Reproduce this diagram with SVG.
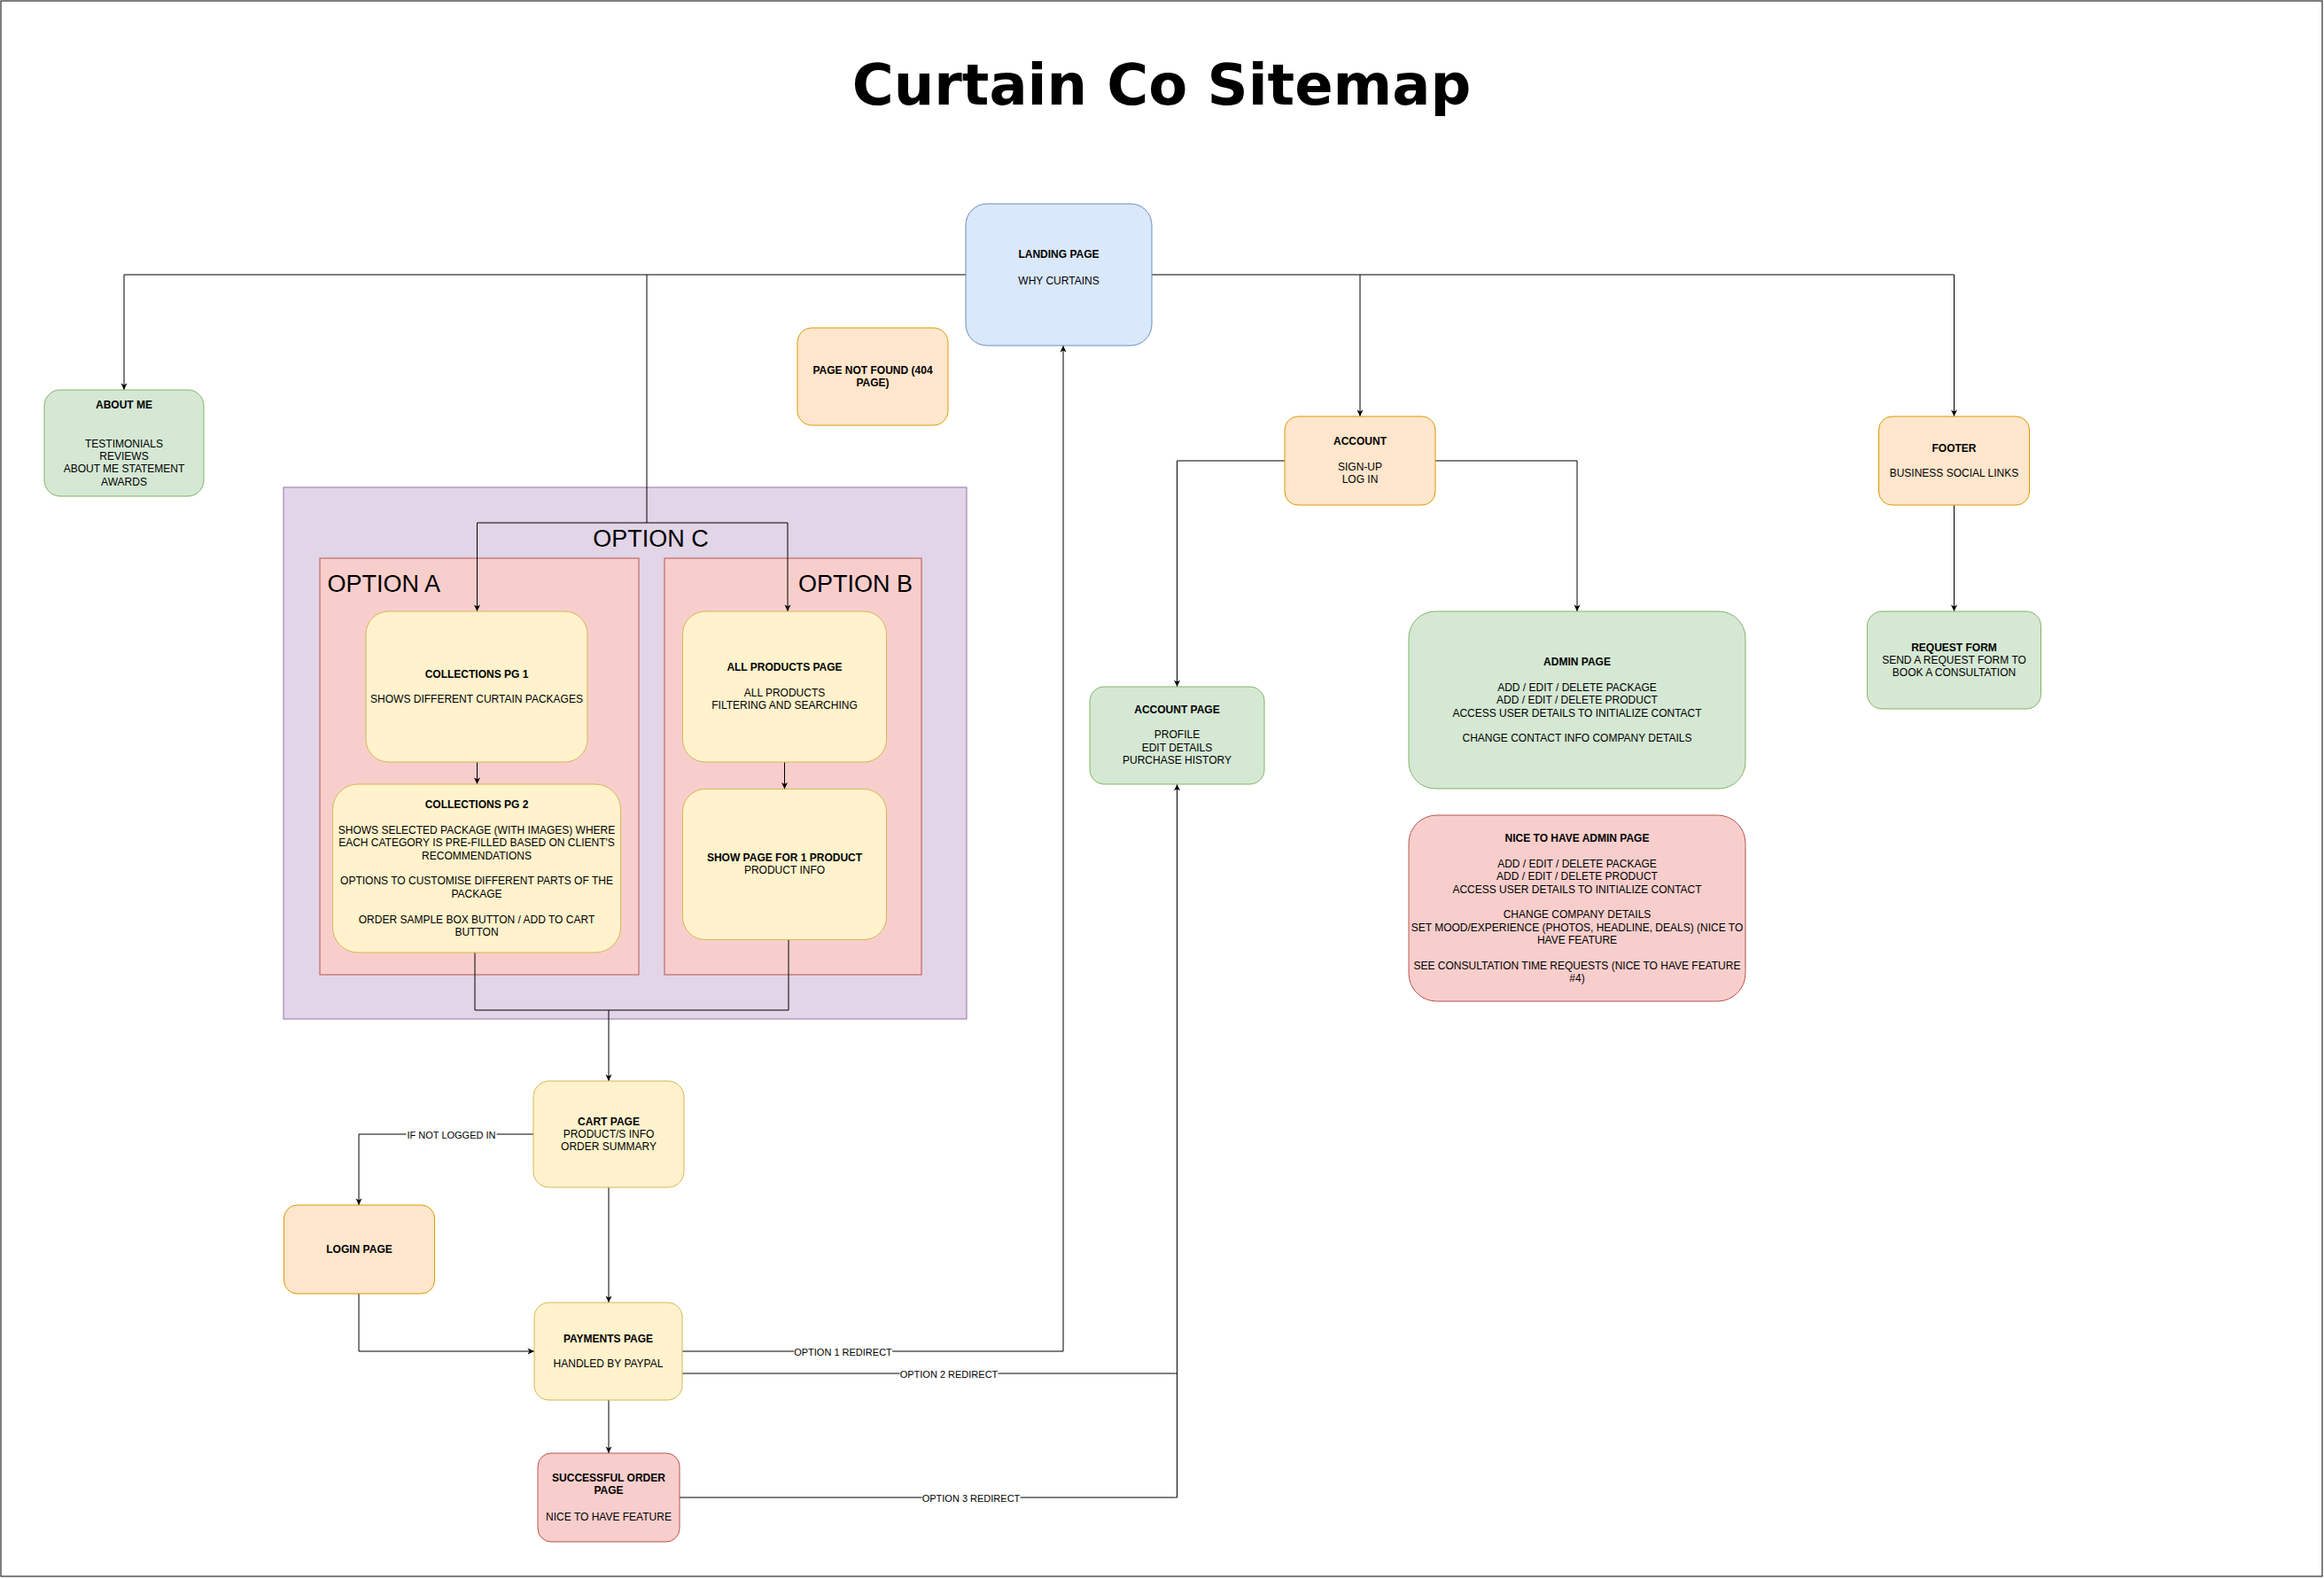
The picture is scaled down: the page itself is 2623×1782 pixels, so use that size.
<svg xmlns="http://www.w3.org/2000/svg" width="2623" height="1782" viewBox="0 0 2623 1782">
<defs>
<marker id="ah" markerUnits="userSpaceOnUse" markerWidth="10" markerHeight="10" refX="9" refY="5" orient="auto"><path d="M1.5,1.5 L9,5 L1.5,8.5 L3.5,5 Z" fill="#000"/></marker>
<style>
.t{font-family:"Liberation Sans",Arial,Helvetica,sans-serif;font-size:12px;fill:#000;text-anchor:middle}
.b{font-weight:bold}
.lbl{font-family:"Liberation Sans",Arial,Helvetica,sans-serif;font-size:11px;fill:#000;text-anchor:middle}
.lb{fill:#fff;stroke:none}
.big{font-family:"Liberation Sans",Arial,Helvetica,sans-serif;font-size:27px;fill:#000}
.title{font-family:"DejaVu Sans",Verdana,sans-serif;font-size:64px;font-weight:bold;fill:#000;text-anchor:middle}
.e{fill:none;stroke:#000;stroke-width:1}
.ea{fill:none;stroke:#000;stroke-width:1;marker-end:url(#ah)}
.blue{fill:#dae8fc;stroke:#6c8ebf;stroke-width:1}
.green{fill:#d5e8d4;stroke:#82b366;stroke-width:1}
.orange{fill:#ffe6cc;stroke:#d79b00;stroke-width:1}
.yellow{fill:#fff2cc;stroke:#d6b656;stroke-width:1}
.red{fill:#f8cecc;stroke:#b85450;stroke-width:1}
.purple{fill:#e1d5e7;stroke:#9673a6;stroke-width:1}
</style>
</defs>
<rect x="0" y="0" width="2623" height="1782" fill="#fff"/>
<g id="frame"><rect x="1" y="1" width="2620" height="1778" fill="none" stroke="#000" stroke-width="1"/></g>
<g id="title"><text class="title" x="1311" y="118">Curtain Co Sitemap</text></g>

<g id="option-c"><rect class="purple" x="320" y="550" width="771" height="600"/><text class="big" x="734.5" y="617" text-anchor="middle">OPTION C</text></g>
<g id="option-a"><rect class="red" x="361" y="630" width="360" height="470"/><text class="big" x="369.5" y="667.5">OPTION A</text></g>
<g id="option-b"><rect class="red" x="750" y="630" width="290" height="470"/><text class="big" x="1030" y="667.5" text-anchor="end">OPTION B</text></g>

<g id="connectors">
<path class="ea" d="M1090,310 H140 V440"/>
<path class="ea" d="M730,310 V590 H538.5 V690"/>
<path class="ea" d="M730,590 H889 V690"/>
<path class="ea" d="M1300,310 H1535 V470"/>
<path class="ea" d="M1535,310 H2205.5 V470"/>
<path class="ea" d="M1450,520 H1328.5 V775"/>
<path class="ea" d="M1620,520 H1780 V690"/>
<path class="ea" d="M2205.5,570 V690"/>
<path class="ea" d="M538.5,860 V885"/>
<path class="ea" d="M885.5,860 V890.5"/>
<path class="ea" d="M536,1075 V1140 H687 V1220"/>
<path class="e" d="M890,1060.5 V1140 H687"/>
<path class="ea" d="M602,1280 H405 V1360"/>
<path class="ea" d="M687,1340 V1470"/>
<path class="ea" d="M405,1460 V1525 H603"/>
<path class="ea" d="M770,1525 H1200 V390"/>
<path class="ea" d="M770,1550 H1328.5 V885"/>
<path class="ea" d="M687,1580 V1640"/>
<path class="e" d="M767,1690 H1328.5 V1550"/>
<rect class="lb" x="458.5" y="1273.5" width="102" height="13"/>
<text class="lbl" x="509.5" y="1284.5">IF NOT LOGGED IN</text>
<rect class="lb" x="896" y="1518.5" width="111" height="13"/>
<text class="lbl" x="951.5" y="1529.5">OPTION 1 REDIRECT</text>
<rect class="lb" x="1015.5" y="1543.5" width="111" height="13"/>
<text class="lbl" x="1071" y="1554.5">OPTION 2 REDIRECT</text>
<rect class="lb" x="1040.5" y="1683.5" width="111" height="13"/>
<text class="lbl" x="1096" y="1694.5">OPTION 3 REDIRECT</text>
</g>

<g id="landing-page"><rect class="blue" x="1090" y="230" width="210" height="160" rx="24"/>
<text class="t b" x="1195" y="291.3">LANDING PAGE</text>
<text class="t" x="1195" y="320.5">WHY CURTAINS</text></g>

<g id="page-not-found"><rect class="orange" x="900" y="370" width="170" height="110" rx="16.5"/>
<text class="t b" x="985" y="422">PAGE NOT FOUND (404</text>
<text class="t b" x="985" y="436.4">PAGE)</text></g>

<g id="about-me"><rect class="green" x="50" y="440" width="180" height="120" rx="18"/>
<text class="t b" x="140" y="461.3">ABOUT ME</text>
<text class="t" x="140" y="504.5">TESTIMONIALS</text>
<text class="t" x="140" y="518.9">REVIEWS</text>
<text class="t" x="140" y="533.3">ABOUT ME STATEMENT</text>
<text class="t" x="140" y="547.7">AWARDS</text></g>

<g id="collections-pg1"><rect class="yellow" x="413" y="690" width="250" height="170" rx="25.5"/>
<text class="t b" x="538" y="765">COLLECTIONS PG 1</text>
<text class="t" x="538" y="793">SHOWS DIFFERENT CURTAIN PACKAGES</text></g>

<g id="collections-pg2"><rect class="yellow" x="375.5" y="885" width="325" height="190" rx="28.5"/>
<text class="t b" x="538" y="912">COLLECTIONS PG 2</text>
<text class="t" x="538" y="940.8">SHOWS SELECTED PACKAGE (WITH IMAGES) WHERE</text>
<text class="t" x="538" y="955.2">EACH CATEGORY IS PRE-FILLED BASED ON CLIENT'S</text>
<text class="t" x="538" y="969.6">RECOMMENDATIONS</text>
<text class="t" x="538" y="998.4">OPTIONS TO CUSTOMISE DIFFERENT PARTS OF THE</text>
<text class="t" x="538" y="1012.8">PACKAGE</text>
<text class="t" x="538" y="1041.6">ORDER SAMPLE BOX BUTTON / ADD TO CART</text>
<text class="t" x="538" y="1056">BUTTON</text></g>

<g id="all-products"><rect class="yellow" x="770.5" y="690" width="230" height="170" rx="25.5"/>
<text class="t b" x="885.5" y="756.6">ALL PRODUCTS PAGE</text>
<text class="t" x="885.5" y="785.6">ALL PRODUCTS</text>
<text class="t" x="885.5" y="800">FILTERING AND SEARCHING</text></g>

<g id="show-page"><rect class="yellow" x="770.5" y="890.5" width="230" height="170" rx="25.5"/>
<text class="t b" x="885.5" y="972">SHOW PAGE FOR 1 PRODUCT</text>
<text class="t" x="885.5" y="986.4">PRODUCT INFO</text></g>

<g id="cart-page"><rect class="yellow" x="602" y="1220" width="170" height="120" rx="18"/>
<text class="t b" x="687" y="1269.6">CART PAGE</text>
<text class="t" x="687" y="1284">PRODUCT/S INFO</text>
<text class="t" x="687" y="1298.4">ORDER SUMMARY</text></g>

<g id="login-page"><rect class="orange" x="320.5" y="1360" width="170" height="100" rx="15"/>
<text class="t b" x="405.5" y="1413.6">LOGIN PAGE</text></g>

<g id="payments-page"><rect class="yellow" x="603" y="1470" width="167" height="110" rx="16.5"/>
<text class="t b" x="686.5" y="1515">PAYMENTS PAGE</text>
<text class="t" x="686.5" y="1543">HANDLED BY PAYPAL</text></g>

<g id="successful-order"><rect class="red" x="607" y="1640" width="160" height="100" rx="15"/>
<text class="t b" x="687" y="1672">SUCCESSFUL ORDER</text>
<text class="t b" x="687" y="1686.4">PAGE</text>
<text class="t" x="687" y="1715.5">NICE TO HAVE FEATURE</text></g>

<g id="account"><rect class="orange" x="1450" y="470" width="170" height="100" rx="15"/>
<text class="t b" x="1535" y="501.6">ACCOUNT</text>
<text class="t" x="1535" y="530.8">SIGN-UP</text>
<text class="t" x="1535" y="545.2">LOG IN</text></g>

<g id="account-page"><rect class="green" x="1230" y="775" width="197" height="110" rx="16.5"/>
<text class="t b" x="1328.5" y="804.6">ACCOUNT PAGE</text>
<text class="t" x="1328.5" y="833.4">PROFILE</text>
<text class="t" x="1328.5" y="847.8">EDIT DETAILS</text>
<text class="t" x="1328.5" y="862.2">PURCHASE HISTORY</text></g>

<g id="admin-page"><rect class="green" x="1590" y="690" width="380" height="200" rx="30"/>
<text class="t b" x="1780" y="751">ADMIN PAGE</text>
<text class="t" x="1780" y="779.8">ADD / EDIT / DELETE PACKAGE</text>
<text class="t" x="1780" y="794.2">ADD / EDIT / DELETE PRODUCT</text>
<text class="t" x="1780" y="808.6">ACCESS USER DETAILS TO INITIALIZE CONTACT</text>
<text class="t" x="1780" y="837.4">CHANGE CONTACT INFO COMPANY DETAILS</text></g>

<g id="nice-admin-page"><rect class="red" x="1590" y="920" width="380" height="210" rx="31.5"/>
<text class="t b" x="1780" y="950">NICE TO HAVE ADMIN PAGE</text>
<text class="t" x="1780" y="978.8">ADD / EDIT / DELETE PACKAGE</text>
<text class="t" x="1780" y="993.2">ADD / EDIT / DELETE PRODUCT</text>
<text class="t" x="1780" y="1007.6">ACCESS USER DETAILS TO INITIALIZE CONTACT</text>
<text class="t" x="1780" y="1036.4">CHANGE COMPANY DETAILS</text>
<text class="t" x="1780" y="1050.8">SET MOOD/EXPERIENCE (PHOTOS, HEADLINE, DEALS) (NICE TO</text>
<text class="t" x="1780" y="1065.2">HAVE FEATURE</text>
<text class="t" x="1780" y="1094">SEE CONSULTATION TIME REQUESTS (NICE TO HAVE FEATURE</text>
<text class="t" x="1780" y="1108.4">#4)</text></g>

<g id="footer"><rect class="orange" x="2120.5" y="470" width="170" height="100" rx="15"/>
<text class="t b" x="2205.5" y="510">FOOTER</text>
<text class="t" x="2205.5" y="538">BUSINESS SOCIAL LINKS</text></g>

<g id="request-form"><rect class="green" x="2107.5" y="690" width="196" height="110" rx="16.5"/>
<text class="t b" x="2205.5" y="734.6">REQUEST FORM</text>
<text class="t" x="2205.5" y="749">SEND A REQUEST FORM TO</text>
<text class="t" x="2205.5" y="763.4">BOOK A CONSULTATION</text></g>
</svg>
